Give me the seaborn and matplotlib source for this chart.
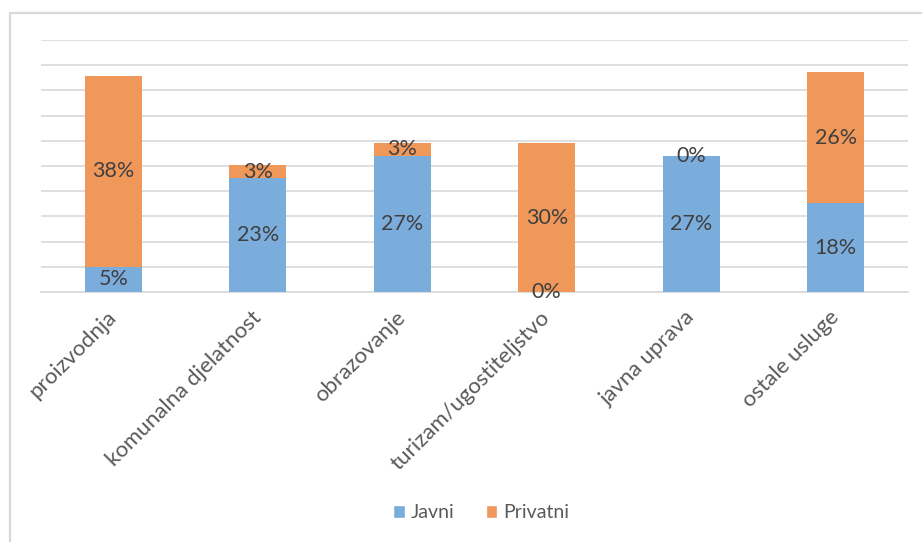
import pandas as pd
import seaborn as sns
from matplotlib import pyplot as plt
from matplotlib.patches import Patch, Rectangle

# values (percent)
categories = ["proizvodnja", "komunalna djelatnost", "obrazovanje",
              "turizam/ugostiteljstvo", "javna uprava", "ostale usluge"]
javni = [5.0, 22.6, 27.0, 0.0, 27.0, 17.6]
privatni = [37.9, 2.6, 2.6, 29.5, 0.0, 26.0]
series_names = ["Javni", "Privatni"]

blue = "#7BADDC"
orange = "#F0975A"
grid_col = "#D9D9D9"
label_col = "#404040"

sns.set_theme(style="white")
plt.rcParams["font.family"] = ["Lato", "DejaVu Sans"]

df = pd.DataFrame({"kat": categories, "javni": javni, "privatni": privatni})
df["ukupno"] = df["javni"] + df["privatni"]

fig = plt.figure(figsize=(9.22, 5.42), dpi=100)
ax = fig.add_axes([41 / 922, 1 - 292 / 542, 867 / 922, 252 / 542])

# stacked bars: total first (orange), public share over it (blue)
sns.barplot(data=df, x="kat", y="ukupno", color=orange, saturation=1,
            width=0.395, linewidth=0, ax=ax, zorder=3)
sns.barplot(data=df, x="kat", y="javni", color=blue, saturation=1,
            width=0.395, linewidth=0, ax=ax, zorder=3)

ax.set_ylim(0, 50)
ax.set_xlim(-0.5, len(categories) - 0.5)
ax.set_yticks(range(0, 51, 5))
ax.set_yticklabels([])
ax.yaxis.grid(True, color=grid_col, linewidth=1.2, zorder=0)
ax.set_axisbelow(True)
for side in ["top", "left", "right"]:
    ax.spines[side].set_visible(False)
ax.spines["bottom"].set_color(grid_col)
ax.spines["bottom"].set_linewidth(1.2)
ax.set_xlabel("")
ax.set_ylabel("")
ax.tick_params(axis="both", length=0)
ax.tick_params(axis="x", pad=16)
plt.setp(ax.get_xticklabels(), rotation=45, ha="right", va="center",
         rotation_mode="anchor", fontsize=16, color="#595959")

# data labels in the middle of each segment
for i in range(len(categories)):
    ax.text(i, javni[i] / 2, "{}%".format(int(javni[i] + 0.5)),
            ha="center", va="center", fontsize=15.5, color=label_col, zorder=5)
    ax.text(i, javni[i] + privatni[i] / 2, "{}%".format(int(privatni[i] + 0.5)),
            ha="center", va="center", fontsize=15.5, color=label_col, zorder=5)

handles = [Patch(facecolor=blue, label=series_names[0]),
           Patch(facecolor=orange, label=series_names[1])]
leg = fig.legend(handles=handles, loc="center", bbox_to_anchor=(0.522, 1 - 513 / 542),
                 ncol=2, frameon=False, fontsize=14, handlelength=0.6,
                 handleheight=0.6, handletextpad=0.3, columnspacing=1.6)
for t in leg.get_texts():
    t.set_color("#595959")

# outer chart frame (runs off the right and bottom edge of the image)
fig.add_artist(Rectangle((10 / 922, -0.1), 1.2, 1.1 - 13 / 542,
                         transform=fig.transFigure, fill=False,
                         edgecolor=grid_col, linewidth=1.6))

fig.savefig("out.png", dpi=100)
